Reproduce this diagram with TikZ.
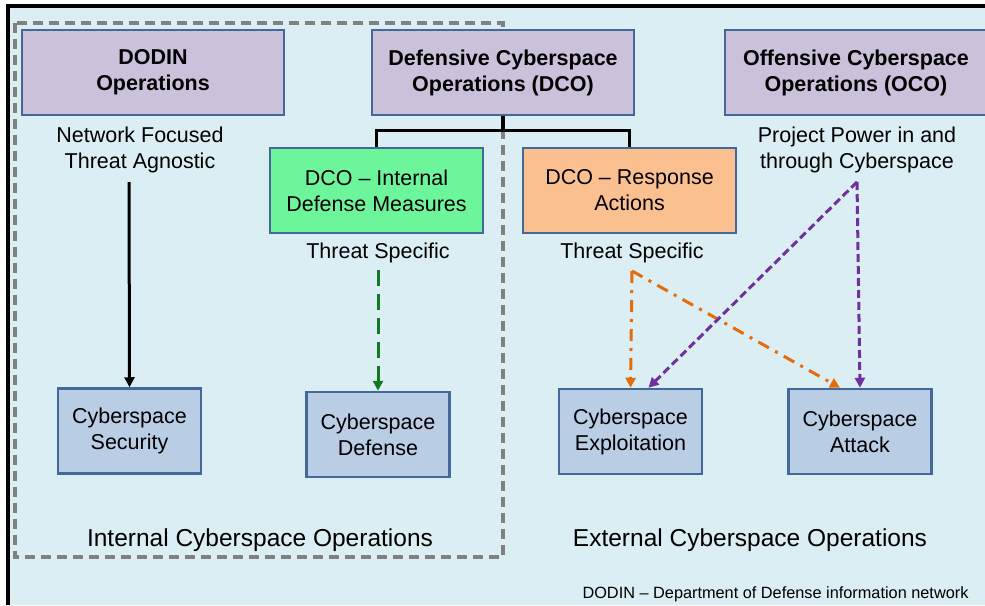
\documentclass[tikz,border=0pt]{standalone}
\usepackage{fontspec}
\setmainfont{Liberation Sans}
\usetikzlibrary{arrows.meta,positioning}
\definecolor{bgblue}{HTML}{DAEEF3}
\definecolor{lav}{HTML}{CCC1DA}
\definecolor{boxline}{HTML}{44689A}
\definecolor{cybblue}{HTML}{B9CDE5}
\definecolor{idmgreen}{HTML}{6CF59A}
\definecolor{raorange}{HTML}{FAC090}
\definecolor{ocopurple}{HTML}{7030A0}
\definecolor{dcoorange}{HTML}{E46C0A}
\definecolor{dcogreen}{HTML}{0F7A22}
\definecolor{zonegray}{HTML}{808080}

\begin{document}
\begin{tikzpicture}[x=1pt, y=-1pt, >={Triangle[length=10pt,width=10pt]},
  txt/.style={align=center, font=\fontsize{21.5}{26}\selectfont, inner sep=0pt},
  opbox/.style={txt, draw=boxline, line width=2.5pt, fill=lav, font=\bfseries\fontsize{21.5}{26}\selectfont, minimum width=262pt, minimum height=85pt},
  subbox/.style={txt, draw=boxline, line width=2.5pt, minimum width=213pt, minimum height=85pt},
  actbox/.style={txt, draw=boxline, line width=2.5pt, fill=cybblue, minimum width=143pt, minimum height=85pt},
  tree/.style={line width=3.5pt},
  zonelbl/.style={txt, font=\fontsize{24.5}{29}\selectfont}]
  \useasboundingbox (0,0) rectangle (985,605);
  \fill[bgblue] (8,6) rectangle (985,605);
  \draw[line width=4pt] (8,605) -- (8,6) -- (985,6);
  \draw[zonegray, line width=3.5pt, dash pattern=on 10pt off 6pt] (15,23) rectangle (503,557);

  \node[opbox] (DODIN) at (153,72.5) {DODIN\\Operations};
  \node[opbox] (DCO)   at (503,72.5) {Defensive Cyberspace\\Operations (DCO)};
  \node[opbox] (OCO)   at (856,72.5) {Offensive Cyberspace\\Operations (OCO)};

  \node[subbox, fill=idmgreen] (IDM) at (376.5,190.5) {DCO -- Internal\\Defense Measures};
  \node[subbox, fill=raorange] (RA)  at (629.5,190.5) {DCO -- Response\\Actions};

  \node[txt] (netfoc) at (140,150) {Network Focused\\Threat Agnostic};
  \node[txt] (tsint)  at (378,253) {Threat Specific};
  \node[txt] (tsext)  at (632,253) {Threat Specific};
  \node[txt] (proj)   at (857,150) {Project Power in and\\through Cyberspace};

  \node[actbox] (SEC) at (129.5,431) {Cyberspace\\Security};
  \node[actbox] (DEF) at (378,434.5) {Cyberspace\\Defense};
  \node[actbox] (EXP) at (630.5,431.5) {Cyberspace\\Exploitation};
  \node[actbox] (ATK) at (860,431.5) {Cyberspace\\Attack};

  \node[zonelbl] (intops) at (260,540) {Internal Cyberspace Operations};
  \node[zonelbl] (extops) at (750,540) {External Cyberspace Operations};
  \node[txt, font=\fontsize{16.3}{19}\selectfont] (note) at (775.5,594) {DODIN -- Department of Defense information network};

  \coordinate (secsrc) at (129,182);
  \coordinate (defsrc) at (378,270);
  \coordinate (rasrc)  at (632,271);
  \coordinate (ocosrc) at (857,182);

  \draw[tree] (DCO.south) -- ++(0,14) -| (IDM.north);
  \draw[tree] (DCO.south) -- ++(0,14) -| (RA.north);

  \draw[->, line width=3pt] (secsrc) -- (SEC.north);
  \draw[->, dcogreen, line width=3pt, dash pattern=on 16pt off 8pt] (defsrc) -- (DEF.north);
  \draw[->, dcoorange, line width=3pt, dash pattern=on 12pt off 7pt on 3pt off 7pt] (rasrc) -- (EXP.north);
  \draw[->, dcoorange, line width=3pt, dash pattern=on 12pt off 7pt on 3pt off 7pt] (rasrc) -- ([xshift=-20pt]ATK.north);
  \draw[->, ocopurple, line width=3pt, dash pattern=on 8pt off 4pt] (ocosrc) -- ([xshift=18pt]EXP.north);
  \draw[->, ocopurple, line width=3pt, dash pattern=on 8pt off 4pt] (ocosrc) -- (ATK.north);
\end{tikzpicture}
\end{document}
